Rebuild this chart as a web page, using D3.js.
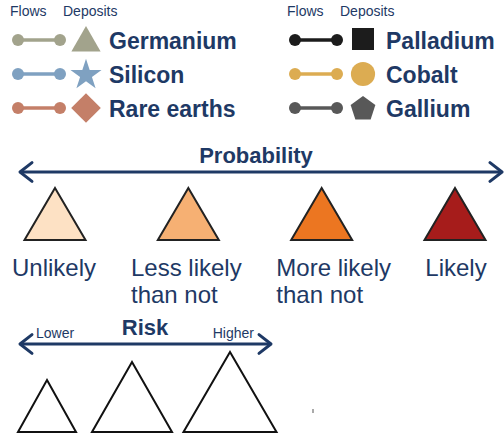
<!DOCTYPE html>
<html>
<head>
<meta charset="utf-8">
<script src="https://cdn.jsdelivr.net/npm/d3@7"></script>
<style>
  html, body { margin: 0; padding: 0; background: #fff; }
  svg { display: block; font-family: "Liberation Sans", Arial, Helvetica, sans-serif; }
</style>
</head>
<body>
<div id="chart"></div>
<script>
// ---- data ----
const legendHeaders = ["Flows", "Deposits"];
const mineralsLeft = ["Germanium", "Silicon", "Rare earths"];
const mineralsRight = ["Palladium", "Cobalt", "Gallium"];
const mineralColorsLeft = ["#a2a38c", "#7fa1c1", "#c47f68"];
const mineralColorsRight = ["#1c1c1c", "#dcac52", "#585858"];
const mineralShapesLeft = ["triangle", "star", "diamond"];
const mineralShapesRight = ["square", "circle", "pentagon"];

const probabilityTitle = "Probability";
const probabilityLevels = [["Unlikely"], ["Less likely", "than not"], ["More likely", "than not"], ["Likely"]];
const probabilityColors = ["#fde1c4", "#f6b073", "#ec7621", "#a61c1b"];

const riskTitle = "Risk";
const riskEnds = ["Lower", "Higher"];
const riskLevels = [1, 2, 3];

// ---- drawing ----
const W = 504, H = 437;
const navy = "#1e3965";
const svg = d3.select("#chart").append("svg").attr("width", W).attr("height", H);

// Legend
const rowY = d3.scalePoint().domain(d3.range(3)).range([40, 108]);
const columns = [
  {names: mineralsLeft, colors: mineralColorsLeft, shapes: mineralShapesLeft, x0: 18},
  {names: mineralsRight, colors: mineralColorsRight, shapes: mineralShapesRight, x0: 295}
];

function pentagonPath(r) {
  const pts = d3.range(5).map(i => {
    const a = -Math.PI / 2 + i * 2 * Math.PI / 5;
    return [r * Math.cos(a), r * Math.sin(a)];
  });
  return d3.line()(pts) + "Z";
}
function shapePath(s) {
  switch (s) {
    case "triangle": return {d: d3.symbol(d3.symbolTriangle, 370)(), dy: 3, rot: 0};
    case "star": return {d: d3.symbol(d3.symbolStar, 300)(), dy: 1, rot: 0};
    case "diamond": return {d: d3.symbol(d3.symbolSquare, 440)(), dy: 0, rot: 45};
    case "square": return {d: d3.symbol(d3.symbolSquare, 484)(), dy: -1, rot: 0};
    case "circle": return {d: d3.symbol(d3.symbolCircle, 460)(), dy: 0, rot: 0};
    case "pentagon": return {d: pentagonPath(13), dy: 1, rot: 0};
  }
}

columns.forEach(col => {
  const g = svg.append("g");
  g.append("text").attr("x", col.x0 - 8).attr("y", 16).attr("font-size", 14).attr("fill", navy).text(legendHeaders[0]);
  g.append("text").attr("x", col.x0 + 45).attr("y", 16).attr("font-size", 14).attr("fill", navy).text(legendHeaders[1]);
  col.names.forEach((name, i) => {
    const y = rowY(i);
    const c = col.colors[i];
    g.append("line").attr("x1", col.x0).attr("x2", col.x0 + 42).attr("y1", y).attr("y2", y)
      .attr("stroke", c).attr("stroke-width", 3.5);
    [col.x0, col.x0 + 42].forEach(cx => g.append("circle").attr("cx", cx).attr("cy", y).attr("r", 6).attr("fill", c));
    const sp = shapePath(col.shapes[i]);
    g.append("path").attr("d", sp.d).attr("fill", c)
      .attr("transform", `translate(${col.x0 + 68},${y + sp.dy}) rotate(${sp.rot})`);
    g.append("text").attr("x", col.x0 + 91).attr("y", y + 9).attr("font-size", 23)
      .attr("font-weight", "bold").attr("fill", navy).text(name);
  });
});

// Double arrow helper
function doubleArrow(x1, x2, y, head) {
  const g = svg.append("g").attr("fill", "none").attr("stroke", navy).attr("stroke-width", 3)
    .attr("stroke-linecap", "round").attr("stroke-linejoin", "round");
  g.append("line").attr("x1", x1 + 1).attr("x2", x2 - 1).attr("y1", y).attr("y2", y);
  g.append("path").attr("d", d3.line()([[x1 + head, y - head * 0.78], [x1, y], [x1 + head, y + head * 0.78]]));
  g.append("path").attr("d", d3.line()([[x2 - head, y - head * 0.78], [x2, y], [x2 - head, y + head * 0.78]]));
}

// Probability
svg.append("text").attr("x", 256).attr("y", 163).attr("text-anchor", "middle").attr("font-size", 22)
  .attr("font-weight", "bold").attr("fill", navy).text(probabilityTitle);
doubleArrow(20, 502, 172, 12);

const px = d3.scalePoint().domain(d3.range(probabilityLevels.length)).range([55, 455]);
const triH = 52, triW = 61;
const tri = (cx, baseY, w, h) => d3.line()([[cx, baseY - h], [cx + w / 2, baseY], [cx - w / 2, baseY]]) + "Z";
const labelShift = [-1, -2, 12, 1];
probabilityLevels.forEach((lines, i) => {
  const cx = px(i);
  svg.append("path").attr("d", tri(cx, 240, triW, triH)).attr("fill", probabilityColors[i])
    .attr("stroke", "#222").attr("stroke-width", 2).attr("stroke-linejoin", "miter");
  const t1 = svg.append("text").attr("x", cx + labelShift[i]).attr("y", 276).attr("text-anchor", "middle")
    .attr("font-size", 24).attr("fill", navy).text(lines[0]);
  if (lines[1]) {
    const w = t1.node().getComputedTextLength();
    svg.append("text").attr("x", cx + labelShift[i] - w / 2).attr("y", 303)
      .attr("font-size", 24).attr("fill", navy).text(lines[1]);
  }
});

// Risk
svg.append("text").attr("x", 145).attr("y", 335).attr("text-anchor", "middle").attr("font-size", 22)
  .attr("font-weight", "bold").attr("fill", navy).text(riskTitle);
doubleArrow(20, 271, 344, 12);
svg.append("text").attr("x", 36).attr("y", 338).attr("font-size", 14).attr("fill", navy).text(riskEnds[0]);
svg.append("text").attr("x", 254).attr("y", 338).attr("text-anchor", "end").attr("font-size", 14).attr("fill", navy).text(riskEnds[1]);

const rh = d3.scaleLinear().domain([1, 2, 3]).range([52, 70, 80]);
const rw = d3.scaleLinear().domain([1, 2, 3]).range([58, 80, 93]);
const rx = d3.scaleLinear().domain([1, 2, 3]).range([47, 132, 230]);
riskLevels.forEach(lv => {
  svg.append("path").attr("d", tri(rx(lv), 432, rw(lv), rh(lv)))
    .attr("fill", "#fff").attr("stroke", "#111").attr("stroke-width", 2);
});

// small stray mark in original
svg.append("rect").attr("x", 312).attr("y", 409).attr("width", 2).attr("height", 4).attr("fill", "#aaa");
</script>
</body>
</html>
